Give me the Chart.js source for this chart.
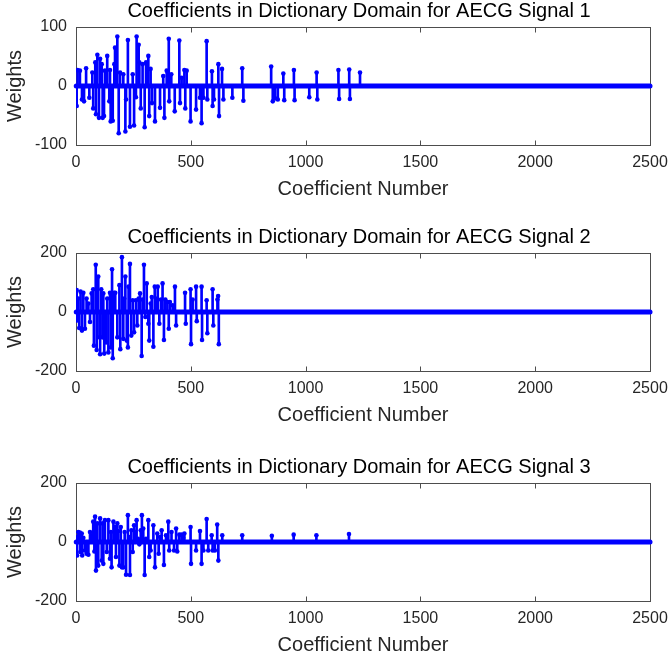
<!DOCTYPE html>
<html>
<head>
<meta charset="utf-8">
<script src="https://cdn.jsdelivr.net/npm/chart.js@4/dist/chart.umd.min.js"></script>
<style>
  html, body { margin: 0; padding: 0; background: #fff; width: 670px; height: 662px; overflow: hidden; position: relative; }
  canvas { position: absolute; left: 0; }
</style>
</head>
<body>
<canvas id="sig1" width="670" height="208" style="top:-3px"></canvas>
<canvas id="sig2" width="670" height="208" style="top:223px"></canvas>
<canvas id="sig3" width="670" height="208" style="top:453px"></canvas>
<script>
// Sparse dictionary coefficients (index, weight) for each AECG signal; every other index is zero.
const numCoefficients = 2500;
const xTicks = [0, 500, 1000, 1500, 2000, 2500];

const idx1 = [3, 7, 17, 26, 35, 44, 58, 71, 75, 84, 87, 93, 100, 105, 112, 116, 122, 126, 136, 145,
  148, 151, 160, 167, 170, 180, 186, 192, 206, 215, 218, 226, 235, 247, 253, 261, 264, 273, 276, 282,
  290, 299, 305, 311, 315, 319, 325, 331, 344, 366, 380, 385, 395, 404, 406, 415, 430, 450, 453, 460,
  472, 476, 482, 499, 523, 540, 547, 555, 569, 572, 592, 595, 601, 620, 623, 636, 642, 681, 724, 729,
  850, 857, 867, 879, 903, 907, 949, 952, 1016, 1048, 1051, 1143, 1146, 1190, 1193, 1237];
const w1 = [-34, 27, 26, -23, -26, 30, -20, 23, -38, 40, -48, 53, -54, 46, 37, -54, -51, 26, 51, -26,
  27, -60, -59, 37, 65, 84, -80, 23, 20, -77, -23, 78, -69, 20, -67, -19, 84, 70, 40, -38,
  37, -70, 40, 27, 51, -51, 29, -29, -60, -37, 17, -54, 26, 80, -26, 20, -43, 77, -29, 14,
  27, -38, 26, -60, -40, -20, -63, -20, 76, -23, 25, -34, -23, 37, -51, 29, -23, -20, 30, -25,
  33, -26, -21, -23, 21, -24, 27, -24, -19, 23, -23, 27, -22, 28, -22, 23];

const idx2 = [3, 5, 10, 14, 20, 26, 32, 39, 46, 54, 61, 68, 75, 78, 86, 90, 97, 102, 105, 110,
  115, 119, 123, 131, 136, 141, 148, 152, 157, 160, 166, 171, 180, 189, 193, 200, 206, 210, 215, 221,
  226, 229, 235, 241, 247, 253, 261, 267, 273, 279, 286, 290, 296, 302, 308, 315, 319, 325, 330, 337,
  343, 348, 356, 363, 370, 377, 383, 389, 398, 404, 409, 421, 431, 436, 475, 478, 499, 501, 508, 523,
  526, 547, 549, 569, 572, 595, 598, 616, 619, 622];
const w2 = [74, -29, 46, -54, 69, -63, 65, -57, 46, 29, -34, 63, 77, -114, 160, -129, 120, -86, -143, 77,
  -86, 63, -141, -103, 46, -137, 65, -120, 145, -157, 65, 65, -86, 91, -126, 186, -91, 46, 120, -97,
  -120, 86, 163, -80, 40, -69, 40, -46, 46, 63, -149, 42, 160, -17, 97, -40, -97, 29, 51, -118,
  86, 46, 86, -40, 42, 97, -95, 42, 34, -57, 34, 23, 86, -46, 65, -40, 77, -109, 42, 86,
  -31, 86, -95, 40, -72, 77, -46, 42, 54, -109];

const idx3 = [3, 5, 10, 17, 19, 25, 27, 32, 39, 46, 54, 61, 68, 75, 80, 83, 87, 93, 97, 105,
  112, 116, 119, 126, 134, 141, 148, 152, 155, 163, 170, 174, 180, 184, 189, 195, 200, 206, 212, 218,
  226, 232, 235, 241, 247, 253, 258, 264, 270, 276, 282, 287, 293, 299, 305, 315, 319, 325, 337, 344,
  354, 360, 366, 373, 383, 392, 402, 406, 416, 427, 436, 441, 450, 460, 467, 472, 499, 501, 523, 540,
  547, 555, 569, 576, 591, 595, 605, 615, 620, 637, 724, 853, 948, 1047, 1189];
const w3 = [17, -46, 34, 32, -34, 29, -46, 14, -29, -40, -43, 34, 23, 69, -32, 86, -97, 63, -80, 80,
  -63, 63, -74, 74, -34, 74, -57, 34, -86, 69, 51, -51, 63, 37, -80, 51, -86, -86, 34, -111,
  91, 17, -112, 40, -34, 57, 34, 74, 11, -8, 40, 91, 46, -112, 11, 74, -51, -29, 57, -86,
  29, -40, 17, 40, -78, 23, 69, -29, 34, -29, 46, -32, 25, 25, 14, 29, 51, -74, -29, 37,
  -74, -29, 78, -29, 23, -29, -29, 59, -63, 23, 23, 21, 25, 23, 27];

const panelTitles = [
  'Coefficients in Dictionary Domain for AECG Signal 1',
  'Coefficients in Dictionary Domain for AECG Signal 2',
  'Coefficients in Dictionary Domain for AECG Signal 3'
];
const yLimits = [100, 200, 200];

const FONT = '"Liberation Sans", Arial, Helvetica, sans-serif';
const TEXT = '#262626';
const STEM = '#0000ff';

// Box around the axes with inward tick marks on all four sides, drawn beneath the data.
const axesBox = {
  id: 'axesBox',
  afterLayout(chart) {
    // nudge the panel title slightly left of the axes centre
    if (chart.titleBlock) chart.titleBlock.left -= 8;
  },
  beforeDatasetsDraw(chart) {
    const { ctx, chartArea: a, scales: { x, y } } = chart;
    const L = Math.round(a.left) + 0.5, R = Math.round(a.right) + 0.5;
    const T = Math.round(a.top) + 0.5, B = Math.round(a.bottom) + 0.5;
    ctx.save();
    ctx.strokeStyle = '#4d4d4d';
    ctx.lineWidth = 1;
    ctx.strokeRect(L, T, R - L, B - T);
    ctx.beginPath();
    x.ticks.forEach(t => {
      const px = Math.round(x.getPixelForValue(t.value)) + 0.5;
      ctx.moveTo(px, B); ctx.lineTo(px, B - 5);
      ctx.moveTo(px, T); ctx.lineTo(px, T + 5);
    });
    y.ticks.forEach(t => {
      const py = Math.round(y.getPixelForValue(t.value)) + 0.5;
      ctx.moveTo(L, py); ctx.lineTo(L + 5, py);
      ctx.moveTo(R, py); ctx.lineTo(R - 5, py);
    });
    ctx.stroke();
    ctx.restore();
  }
};

function stemPanel(canvasId, title, idx, w, lim) {
  const tips = idx.map((k, i) => ({ x: k, y: w[i] }));
  new Chart(document.getElementById(canvasId), {
    type: 'scatter',
    data: {
      datasets: [
        { // stem heads
          type: 'scatter', data: tips, order: 0,
          pointRadius: 2.3, pointBorderWidth: 0, backgroundColor: STEM, borderColor: STEM
        },
        { // stems
          type: 'bar', data: tips, order: 1,
          barThickness: 2, backgroundColor: STEM, borderWidth: 0
        },
        { // zero-valued coefficients form a solid band along the baseline
          type: 'line', data: [{ x: 1, y: 0 }, { x: numCoefficients, y: 0 }], order: 2,
          borderColor: STEM, borderWidth: 5, borderCapStyle: 'round', pointRadius: 0, clip: false
        }
      ]
    },
    options: {
      responsive: false,
      animation: false,
      events: [],
      layout: { padding: { left: 0, right: 20, top: 0, bottom: 0 } },
      plugins: {
        legend: { display: false },
        tooltip: { enabled: false },
        title: {
          display: true, text: title, fullSize: false, color: '#000',
          font: { family: FONT, size: 20, weight: 'normal' },
          padding: { top: 2, bottom: 4 }
        }
      },
      scales: {
        x: {
          type: 'linear', min: 0, max: numCoefficients, offset: false,
          afterBuildTicks: s => { s.ticks = xTicks.map(v => ({ value: v })); },
          grid: { display: false, drawTicks: false, offset: false },
          border: { display: false },
          ticks: {
            color: TEXT, padding: 8, maxRotation: 0, autoSkip: false,
            font: { family: FONT, size: 16 },
            callback: v => String(v)
          },
          title: {
            display: true, text: 'Coefficient Number', color: TEXT,
            font: { family: FONT, size: 20 }, padding: { top: 0, bottom: 4 }
          },
          afterFit: s => { s.height = 60; s.paddingLeft = 0; s.paddingRight = 0; }
        },
        y: {
          type: 'linear', min: -lim, max: lim,
          afterBuildTicks: s => { s.ticks = [-lim, 0, lim].map(v => ({ value: v })); },
          grid: { display: false, drawTicks: false },
          border: { display: false },
          ticks: {
            color: TEXT, padding: 9,
            font: { family: FONT, size: 16 },
            callback: v => String(v)
          },
          title: {
            display: true, text: 'Weights', color: TEXT,
            font: { family: FONT, size: 20 }, padding: { top: 3, bottom: 0 }
          },
          afterFit: s => { s.width = 76; s.paddingTop = 0; s.paddingBottom = 0; }
        }
      }
    },
    plugins: [axesBox]
  });
}

stemPanel('sig1', panelTitles[0], idx1, w1, yLimits[0]);
stemPanel('sig2', panelTitles[1], idx2, w2, yLimits[1]);
stemPanel('sig3', panelTitles[2], idx3, w3, yLimits[2]);
</script>
</body>
</html>
